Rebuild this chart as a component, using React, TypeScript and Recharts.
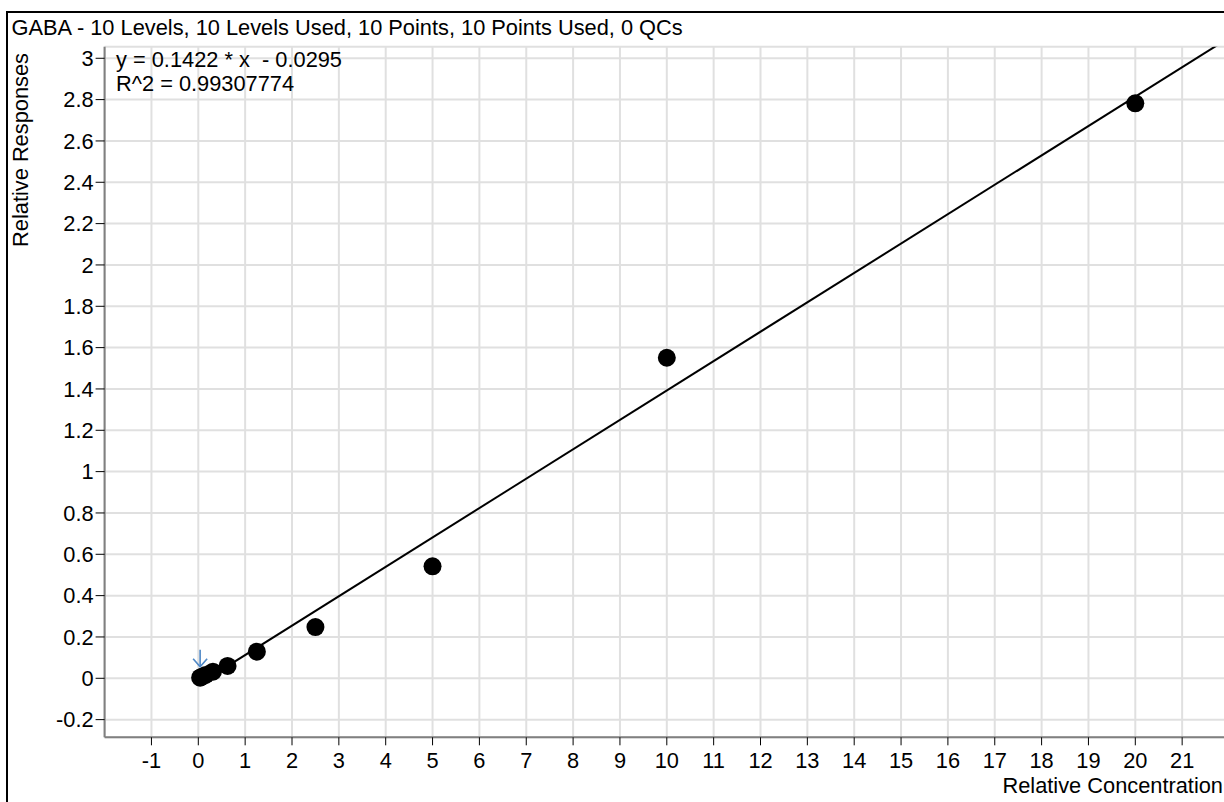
import React from 'react';
import {
  ComposedChart,
  Scatter,
  XAxis,
  YAxis,
  CartesianGrid,
} from 'recharts';

// calibration levels (relative concentration) and measured relative responses
const concentrations = [0.0390625, 0.078125, 0.15625, 0.3125, 0.625, 1.25, 2.5, 5, 10, 20];
const responses = [0.003, 0.008, 0.016, 0.032, 0.06, 0.129, 0.248, 0.542, 1.551, 2.782];

// linear fit reported in the header
const fitSlope = 0.1422;
const fitIntercept = -0.0295;
const fitRange = [0, 22];

const xTicks = [-1, 0, 1, 2, 3, 4, 5, 6, 7, 8, 9, 10, 11, 12, 13, 14, 15, 16, 17, 18, 19, 20, 21];
const yTicks = [-0.2, 0, 0.2, 0.4, 0.6, 0.8, 1, 1.2, 1.4, 1.6, 1.8, 2, 2.2, 2.4, 2.6, 2.8, 3];

const FONT = '"Liberation Sans", Arial, Helvetica, sans-serif';
const FONT_SIZE = 21.8;
const AXIS_GRAY = '#808080';

const points = concentrations.map((x, i) => ({ x, y: responses[i] }));
const fitLine = fitRange.map((x) => ({ x, y: fitSlope * x + fitIntercept }));
const marker = [points[0]];

const Dot = (props: any) => <circle cx={props.cx} cy={props.cy} r={9} fill="#000" />;

// small blue arrow pointing at the lowest level
const Arrow = (props: any) => {
  const { cx, cy } = props;
  return (
    <g stroke="#4f88c6" strokeWidth={1.6} fill="none">
      <line x1={cx} y1={cy - 28} x2={cx} y2={cy - 11} />
      <polyline points={`${cx - 7},${cy - 19} ${cx},${cy - 11} ${cx + 7},${cy - 19}`} />
    </g>
  );
};

export default function App() {
  return (
    <div
      style={{
        position: 'absolute',
        left: 0,
        top: 0,
        width: 1224,
        height: 802,
        overflow: 'hidden',
        background: '#fff',
        fontFamily: FONT,
      }}
    >
      <div
        style={{
          position: 'absolute',
          left: 6,
          top: 11,
          width: 1300,
          height: 900,
          border: '2px solid #000',
        }}
      />
      <div style={{ position: 'absolute', left: 0, top: 0 }}>
        <ComposedChart
          width={1232}
          height={802}
          margin={{ top: 46.7, right: 3, bottom: 0, left: 0 }}
        >
          <CartesianGrid stroke="#e0e0e0" strokeWidth={2} />
          <XAxis
            type="number"
            dataKey="x"
            domain={[-2, 22]}
            ticks={xTicks}
            interval={0}
            allowDataOverflow
            height={64.7}
            axisLine={{ stroke: AXIS_GRAY, strokeWidth: 2 }}
            tickLine={{ stroke: '#000', strokeWidth: 1 }}
            tickSize={8}
            tickMargin={7}
            tick={{ fill: '#000', fontSize: FONT_SIZE, fontFamily: FONT }}
          />
          <YAxis
            type="number"
            dataKey="y"
            domain={[-0.2855, 3.056]}
            ticks={yTicks}
            interval={0}
            allowDataOverflow
            width={104.6}
            axisLine={{ stroke: AXIS_GRAY, strokeWidth: 2 }}
            tickLine={{ stroke: '#000', strokeWidth: 1 }}
            tickSize={9}
            tickMargin={2}
            tick={{ fill: '#000', fontSize: FONT_SIZE, fontFamily: FONT }}
          />
          <Scatter
            data={fitLine}
            line={{ stroke: '#000', strokeWidth: 2 }}
            shape={() => null}
            isAnimationActive={false}
          />
          <Scatter data={points} shape={Dot} isAnimationActive={false} />
          <Scatter data={marker} shape={Arrow} isAnimationActive={false} />
        </ComposedChart>
      </div>
      <svg
        width={1224}
        height={802}
        style={{ position: 'absolute', left: 0, top: 0, pointerEvents: 'none' }}
        fontFamily={FONT}
        fontSize={FONT_SIZE}
        fill="#000"
      >
        <text x={11.5} y={35}>
          GABA - 10 Levels, 10 Levels Used, 10 Points, 10 Points Used, 0 QCs
        </text>
        <text x={116} y={66.5} style={{ whiteSpace: 'pre' }}>
          {'y = 0.1422 * x  - 0.0295'}
        </text>
        <text x={116} y={91}>
          R^2 = 0.99307774
        </text>
        <text x={28} y={150} textAnchor="middle" transform="rotate(-90 28 150)">
          Relative Responses
        </text>
        <text x={1223} y={793} textAnchor="end">
          Relative Concentration
        </text>
      </svg>
    </div>
  );
}
